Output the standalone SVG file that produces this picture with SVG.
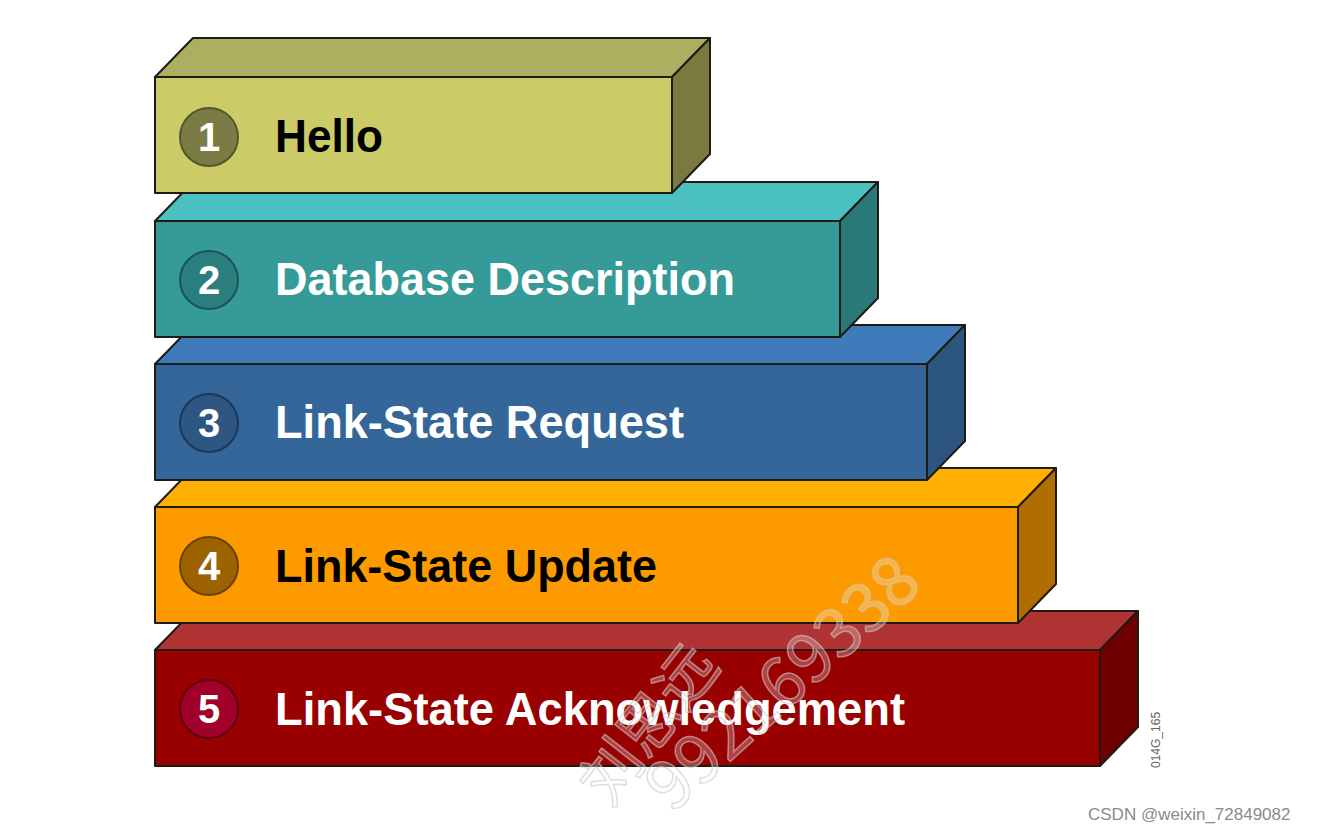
<svg xmlns="http://www.w3.org/2000/svg" width="1333" height="833" viewBox="0 0 1333 833">
<style>
.f{stroke:#1e1a14;stroke-width:2;stroke-linejoin:round}
.lbl{font-family:"Liberation Sans",Arial,sans-serif;font-weight:bold;font-size:47px}
.num{font-family:"Liberation Sans",Arial,sans-serif;font-weight:bold;font-size:40px;fill:#fff;text-anchor:middle}
.circ{stroke-width:2}
.wm{font-family:"Noto Sans CJK SC","Liberation Sans",sans-serif;fill:#fff;fill-opacity:0.25;stroke:#c8c8c8;stroke-opacity:0.6;stroke-width:1.5}
</style>
<rect width="1333" height="833" fill="#fff"/>
<g id="box5">
<polygon class="f" points="155,650 193,611 1138,611 1100,650" fill="#b03333"/>
<polygon class="f" points="1100,650 1138,611 1138,727 1100,766" fill="#6e0000"/>
<rect class="f" x="155" y="650" width="945" height="116" fill="#990000"/>
<circle class="circ" cx="209" cy="709" r="29" fill="#a0002a" stroke="#5e0010"/>
<text class="num" x="209" y="723">5</text>
<text class="lbl" x="275" y="725" fill="#fff" textLength="630" lengthAdjust="spacingAndGlyphs">Link-State Acknowledgement</text>
</g>
<g id="box4">
<polygon class="f" points="155,507 193,468 1056,468 1018,507" fill="#ffb000"/>
<polygon class="f" points="1018,507 1056,468 1056,584 1018,623" fill="#b06e00"/>
<rect class="f" x="155" y="507" width="863" height="116" fill="#fd9a00"/>
<circle class="circ" cx="209" cy="566" r="29" fill="#9c6200" stroke="#6a4200"/>
<text class="num" x="209" y="580">4</text>
<text class="lbl" x="275" y="582" fill="#000" textLength="382" lengthAdjust="spacingAndGlyphs">Link-State Update</text>
</g>
<g id="box3">
<polygon class="f" points="155,364 193,325 965,325 927,364" fill="#3f7bbb"/>
<polygon class="f" points="927,364 965,325 965,441 927,480" fill="#2c5580"/>
<rect class="f" x="155" y="364" width="772" height="116" fill="#356699"/>
<circle class="circ" cx="209" cy="423" r="29" fill="#2d5683" stroke="#1c3758"/>
<text class="num" x="209" y="437">3</text>
<text class="lbl" x="275" y="438" fill="#fff" textLength="409" lengthAdjust="spacingAndGlyphs">Link-State Request</text>
</g>
<g id="box2">
<polygon class="f" points="155,221 193,182 878,182 840,221" fill="#4bc0c0"/>
<polygon class="f" points="840,221 878,182 878,298 840,337" fill="#2a7878"/>
<rect class="f" x="155" y="221" width="685" height="116" fill="#359a98"/>
<circle class="circ" cx="209" cy="280" r="29" fill="#2a7e7e" stroke="#1a5555"/>
<text class="num" x="209" y="294">2</text>
<text class="lbl" x="275" y="295" fill="#fff" textLength="460" lengthAdjust="spacingAndGlyphs">Database Description</text>
</g>
<g id="box1">
<polygon class="f" points="155,77 193,38 710,38 672,77" fill="#aeae60"/>
<polygon class="f" points="672,77 710,38 710,154 672,193" fill="#7a7a40"/>
<rect class="f" x="155" y="77" width="517" height="116" fill="#cbcb68"/>
<circle class="circ" cx="209" cy="137" r="29" fill="#7b7b45" stroke="#55552e"/>
<text class="num" x="209" y="151">1</text>
<text class="lbl" x="275" y="152" fill="#000" textLength="108" lengthAdjust="spacingAndGlyphs">Hello</text>
</g>
<g id="connectors"/>
<text x="1160" y="768" transform="rotate(-90 1160 768)" font-family="Liberation Sans,Arial,sans-serif" font-size="12" fill="#666">014G_165</text>
<text class="wm" x="610" y="808" font-size="60" transform="rotate(-52 610 808)">刘思远</text>
<text class="wm" x="672" y="814" font-size="68" transform="rotate(-42 672 814)">992169338</text>
<text x="1088" y="820" font-family="Liberation Sans,Arial,sans-serif" font-size="17" fill="#8a8a8a">CSDN @weixin_72849082</text>
</svg>
